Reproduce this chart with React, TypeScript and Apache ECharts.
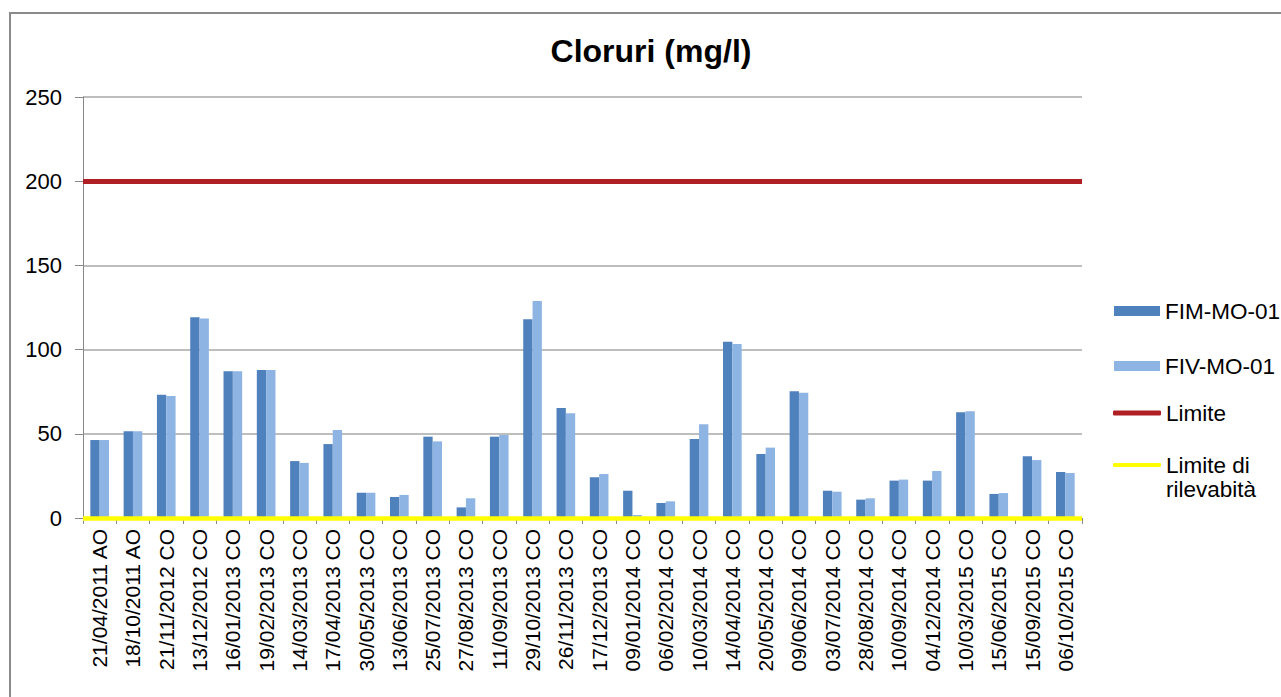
import React, { useEffect, useRef } from "react";
import * as echarts from "echarts";

const categories = [
  "21/04/2011 AO", "18/10/2011 AO", "21/11/2012 CO", "13/12/2012 CO", "16/01/2013 CO",
  "19/02/2013 CO", "14/03/2013 CO", "17/04/2013 CO", "30/05/2013 CO", "13/06/2013 CO",
  "25/07/2013 CO", "27/08/2013 CO", "11/09/2013 CO", "29/10/2013 CO", "26/11/2013 CO",
  "17/12/2013 CO", "09/01/2014 CO", "06/02/2014 CO", "10/03/2014 CO", "14/04/2014 CO",
  "20/05/2014 CO", "09/06/2014 CO", "03/07/2014 CO", "28/08/2014 CO", "10/09/2014 CO",
  "04/12/2014 CO", "10/03/2015 CO", "15/06/2015 CO", "15/09/2015 CO", "06/10/2015 CO",
];

const fimValues = [
  46.3, 51.5, 73.2, 119.2, 87.1, 87.9, 33.8, 43.9, 15.0, 12.5,
  48.3, 6.3, 48.3, 118.0, 65.3, 24.2, 16.2, 8.9, 46.9, 104.7,
  38.0, 75.2, 16.2, 10.9, 22.2, 22.2, 62.8, 14.3, 36.6, 27.3,
];

const fivValues = [
  46.3, 51.5, 72.4, 118.4, 87.1, 87.9, 32.7, 52.3, 15.0, 13.7,
  45.5, 11.7, 49.3, 128.9, 62.2, 26.1, 1.8, 9.9, 55.6, 103.3,
  41.8, 74.4, 15.6, 11.7, 22.8, 27.9, 63.4, 14.8, 34.4, 26.7,
];

const LIMITE = 200;
const LIMITE_RILEVABILITA = 0;

const yMin = 0;
const yMax = 250;
const yInterval = 50;

const FONT = '"Liberation Sans", Arial, sans-serif';
const RED = "#B01F24";
const YELLOW = "#FFFF00";

export default function App() {
  const ref = useRef<HTMLDivElement>(null);

  useEffect(() => {
    if (!ref.current) return;
    const chart = echarts.init(ref.current, null, { renderer: "svg" });

    const legendBase = {
      orient: "vertical",
      left: 1114,
      padding: 0,
      itemWidth: 46,
      itemHeight: 10,
      itemGap: 0,
      textStyle: { fontFamily: FONT, fontSize: 22.5, color: "#000", lineHeight: 24 },
    };

    const option: any = {
      animation: false,
      backgroundColor: "#fff",
      title: {
        text: "Cloruri (mg/l)",
        left: 651,
        top: 35,
        padding: 0,
        textAlign: "center",
        textStyle: { fontFamily: FONT, fontSize: 32, fontWeight: "bold", color: "#000" },
      },
      graphic: [
        {
          type: "rect",
          silent: true,
          z: -10,
          shape: { x: 10, y: 13, width: 1400, height: 800 },
          style: { fill: "none", stroke: "#8a8a8a", lineWidth: 2 },
        },
      ],
      legend: [
        { ...legendBase, top: 299, data: [{ name: "FIM-MO-01", icon: "rect" }] },
        { ...legendBase, top: 354, data: [{ name: "FIV-MO-01", icon: "rect" }] },
        {
          ...legendBase,
          top: 401,
          itemWidth: 48,
          itemHeight: 5,
          left: 1113,
          data: [{ name: "Limite", icon: "roundRect" }],
        },
        {
          ...legendBase,
          top: 429,
          itemWidth: 48,
          itemHeight: 4,
          left: 1113,
          data: [{ name: "Limite di rilevabità", icon: "roundRect" }],
          formatter: () => "\nLimite di\nrilevabità",
        },
      ],
      grid: { left: 83, right: 199, top: 97, bottom: 179 },
      xAxis: {
        type: "category",
        data: categories,
        axisLine: { show: true, lineStyle: { color: "#888", width: 1 } },
        axisTick: { show: true, length: 6, lineStyle: { color: "#888" } },
        axisLabel: {
          rotate: 90,
          interval: 0,
          margin: 11,
          fontFamily: FONT,
          fontSize: 21,
          color: "#000",
        },
      },
      yAxis: {
        type: "value",
        min: yMin,
        max: yMax,
        interval: yInterval,
        axisLine: { show: true, lineStyle: { color: "#888", width: 1 } },
        axisTick: { show: true, length: 8, lineStyle: { color: "#888" } },
        axisLabel: { margin: 21, fontFamily: FONT, fontSize: 22, color: "#000" },
        splitLine: { show: true, lineStyle: { color: "#A8A8A8", width: 1.5 } },
      },
      series: [
        {
          name: "FIM-MO-01",
          type: "bar",
          data: fimValues,
          barGap: "0%",
          barCategoryGap: "44%",
          itemStyle: { color: "#4F81BD" },
        },
        {
          name: "FIV-MO-01",
          type: "bar",
          data: fivValues,
          barGap: "0%",
          barCategoryGap: "44%",
          itemStyle: { color: "#8EB4E3" },
        },
        {
          name: "Limite",
          type: "line",
          data: [],
          symbol: "none",
          itemStyle: { color: RED },
          lineStyle: { color: RED, width: 5 },
          markLine: {
            silent: true,
            symbol: ["none", "none"],
            label: { show: false },
            lineStyle: { color: RED, width: 5, type: "solid" },
            data: [{ yAxis: LIMITE }],
          },
          z: 5,
        },
        {
          name: "Limite di rilevabità",
          type: "line",
          data: [],
          symbol: "none",
          itemStyle: { color: YELLOW },
          lineStyle: { color: YELLOW, width: 4 },
          markLine: {
            silent: true,
            symbol: ["none", "none"],
            label: { show: false },
            lineStyle: { color: YELLOW, width: 4.5, type: "solid" },
            data: [{ yAxis: LIMITE_RILEVABILITA }],
          },
          z: 5,
        },
      ],
    };

    chart.setOption(option);
    return () => chart.dispose();
  }, []);

  return (
    <div
      ref={ref}
      style={{ position: "absolute", left: 0, top: 0, width: 1281, height: 697 }}
    />
  );
}
